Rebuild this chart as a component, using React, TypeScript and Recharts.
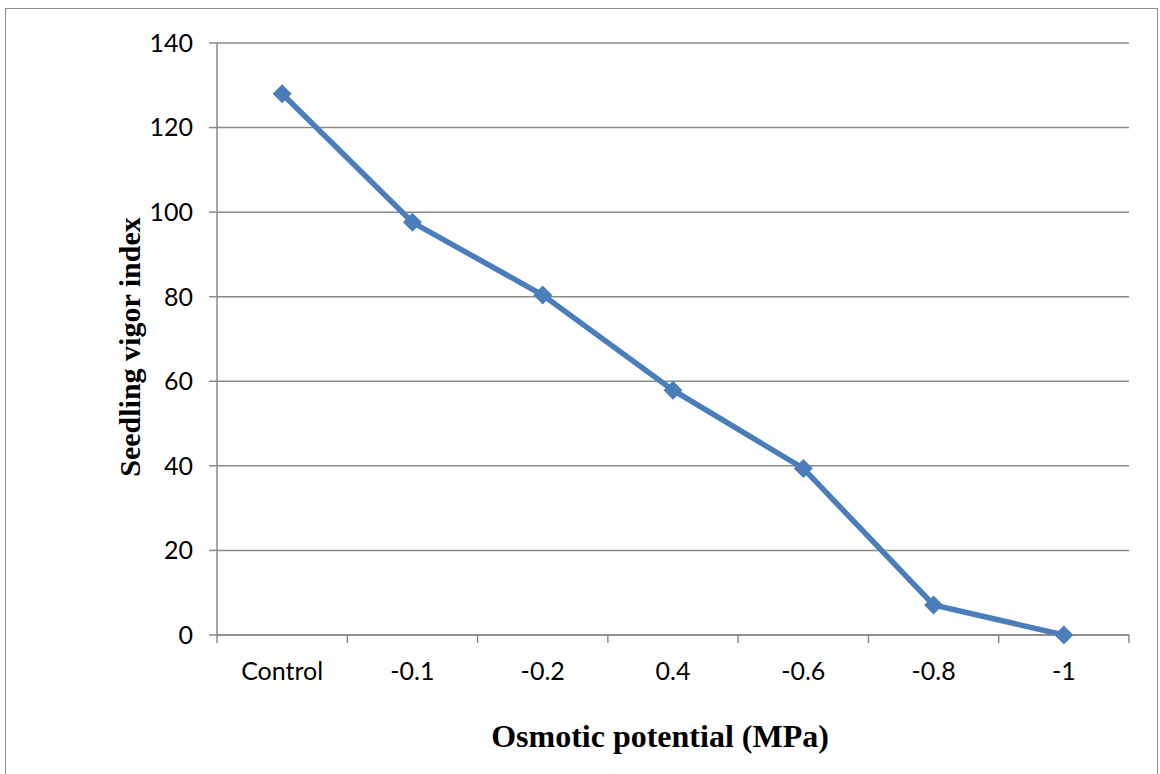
import { LineChart, Line, XAxis, YAxis, CartesianGrid } from 'recharts';

const categories = ['Control', '-0.1', '-0.2', '0.4', '-0.6', '-0.8', '-1'];
const vigorIndex = [128, 97.6, 80.4, 57.9, 39.4, 7.1, 0];
const yTicks = [0, 20, 40, 60, 80, 100, 120, 140];

const data = categories.map((c, i) => ({ pos: i + 0.5, label: c, value: vigorIndex[i] }));
// boundaries (tick marks) + centres (labels)
const xTicks = categories.flatMap((_, i) => [i, i + 0.5]).concat(categories.length);

const axisGray = '#898989';
const lineBlue = '#4A7EBB';
const tickFont = 'Lato, "Open Sans", sans-serif';
const titleStyle = { fontFamily: '"Liberation Serif", "Times New Roman", serif', fontWeight: 'bold', fill: '#000' };

const XTick = (props: any) => {
  const { x, y, payload } = props;
  const v = payload.value;
  if (Number.isInteger(v)) {
    // boundary tick mark, drawn down from the axis line
    return <line x1={x} x2={x} y1={y - 27} y2={y - 19} stroke={axisGray} strokeWidth={1.5} />;
  }
  return (
    <text x={x} y={y} dy="0.72em" textAnchor="middle" fill="#000" fontSize={25} fontFamily={tickFont}>
      {categories[Math.floor(v)]}
    </text>
  );
};

const Diamond = (props: any) => {
  const { cx, cy } = props;
  if (cx == null || cy == null) return null;
  const r = 9.5;
  return <polygon points={`${cx},${cy - r} ${cx + r},${cy} ${cx},${cy + r} ${cx - r},${cy}`} fill={lineBlue} />;
};

export default function App() {
  return (
    <div style={{ position: 'absolute', left: 0, top: 0, width: 1160, height: 774, overflow: 'hidden', background: '#fff' }}>
      <div style={{ position: 'absolute', left: 5, top: 8, width: 1151, height: 820, border: '1.5px solid #8f8f8f' }} />
      <LineChart width={1160} height={774} data={data} margin={{ top: 43, right: 31, bottom: 0, left: 41 }}>
        <CartesianGrid vertical={false} stroke={axisGray} strokeWidth={1.5} />
        <XAxis
          dataKey="pos"
          type="number"
          domain={[0, categories.length]}
          ticks={xTicks}
          interval={0}
          height={139}
          tickLine={false}
          tickSize={8}
          tickMargin={19}
          axisLine={{ stroke: axisGray, strokeWidth: 1.5 }}
          tick={<XTick />}
          label={{
            value: 'Osmotic potential (MPa)',
            position: 'insideBottom',
            offset: 27,
            dx: -13,
            style: { ...titleStyle, fontSize: 32 },
          }}
        />
        <YAxis
          domain={[0, 140]}
          ticks={yTicks}
          width={176}
          tickSize={8}
          tickMargin={16}
          axisLine={{ stroke: axisGray, strokeWidth: 1.5 }}
          tickLine={{ stroke: axisGray, strokeWidth: 1.5 }}
          tick={{ fill: '#000', fontSize: 25, fontFamily: tickFont }}
          label={{
            value: 'Seedling vigor index',
            angle: -90,
            position: 'center',
            dy: 8,
            style: { ...titleStyle, fontSize: 30 },
          }}
        />
        <Line
          type="linear"
          dataKey="value"
          stroke={lineBlue}
          strokeWidth={5.5}
          dot={<Diamond />}
          activeDot={false}
          isAnimationActive={false}
        />
      </LineChart>
    </div>
  );
}
